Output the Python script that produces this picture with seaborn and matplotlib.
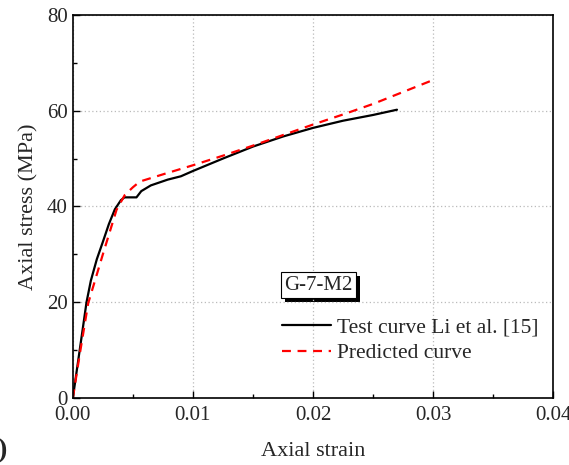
import matplotlib
matplotlib.use("Agg")
import matplotlib.pyplot as plt
import seaborn as sns
import pandas as pd
from matplotlib.patches import Rectangle
from matplotlib.ticker import MultipleLocator, FormatStrFormatter

test_strain = [0.0, 0.0004, 0.0008, 0.00114, 0.0015, 0.0020, 0.0025, 0.0030, 0.0035, 0.0040, 0.0043, 0.0053,
               0.0057, 0.0065, 0.0079, 0.009, 0.010, 0.0125, 0.015, 0.0175, 0.020, 0.0225, 0.025, 0.0270]
test_stress = [0.0, 7.0, 14.0, 20.0, 24.5, 29.0, 32.6, 36.3, 39.4, 41.3, 41.9, 41.9,
               43.2, 44.4, 45.6, 46.3, 47.4, 50.0, 52.5, 54.6, 56.4, 57.9, 59.1, 60.2]
pred_strain = [0.0, 0.0006, 0.00128, 0.0025, 0.00364, 0.00433, 0.0050, 0.00558, 0.0075, 0.010,
               0.0125, 0.015, 0.0175, 0.020, 0.0225, 0.025, 0.027, 0.0300]
pred_stress = [0.0, 9.5, 19.8, 30.0, 39.3, 42.4, 44.0, 45.2, 46.7, 48.6,
               50.6, 52.7, 54.9, 57.1, 59.2, 61.4, 63.4, 66.4]

sns.set_theme(style="ticks")
plt.rcParams['font.family'] = ['Liberation Serif', 'DejaVu Serif']

df = pd.concat([
    pd.DataFrame({"strain": test_strain, "stress": test_stress, "curve": "Test curve Li et al. [15]"}),
    pd.DataFrame({"strain": pred_strain, "stress": pred_stress, "curve": "Predicted curve"}),
])

fig = plt.figure(figsize=(5.69, 4.65), dpi=100)
ax = fig.add_axes([0.128, 0.144, 0.844, 0.824])

sns.lineplot(data=df, x="strain", y="stress", hue="curve", style="curve",
             palette={"Test curve Li et al. [15]": "black", "Predicted curve": "#ff0000"},
             dashes={"Test curve Li et al. [15]": "", "Predicted curve": (4, 3)},
             linewidth=1.6, sort=False, estimator=None, ax=ax, legend=True)

ax.set_xlim(0, 0.04)
ax.set_ylim(0, 80)
ax.xaxis.set_major_locator(MultipleLocator(0.01))
ax.xaxis.set_minor_locator(MultipleLocator(0.005))
ax.yaxis.set_major_locator(MultipleLocator(20))
ax.yaxis.set_minor_locator(MultipleLocator(10))
ax.xaxis.set_major_formatter(FormatStrFormatter("%.2f"))
ax.tick_params(which="both", direction="in", labelsize=15, color="black", width=1.0)
ax.tick_params(which="major", length=5)
ax.tick_params(which="minor", length=3)
ax.tick_params(axis="x", pad=6)
ax.grid(True, which="major", linestyle=(0, (1, 2)), color="#bbbbbb", linewidth=0.9)
for s in ax.spines.values():
    s.set_color("black")
    s.set_linewidth(1.2)

ax.set_xlabel("Axial strain", fontsize=16, labelpad=12)
ax.set_ylabel("Axial stress (MPa)", fontsize=16, labelpad=6)

h, l = ax.get_legend_handles_labels()
leg = ax.legend(h, l, loc="lower left", bbox_to_anchor=(0.395, 0.04), frameon=False,
                fontsize=15.5, handlelength=2.28, handletextpad=0.28, labelspacing=0.25)
for line in leg.get_lines():
    line.set_linewidth(1.6)

t = ax.text(0.441, 0.295, "G-7-M2", transform=ax.transAxes, fontsize=15, va="center", ha="left",
            zorder=5, bbox=dict(boxstyle="square,pad=0.15", facecolor="white", edgecolor="black", linewidth=0.8))
renderer = fig.canvas.get_renderer()
fig.canvas.draw()
bb = t.get_bbox_patch().get_window_extent(renderer)
W, H = fig.bbox.width, fig.bbox.height
fig.add_artist(Rectangle(((bb.x0 + 4) / W, (bb.y0 - 4) / H), bb.width / W, bb.height / H,
                         transform=fig.transFigure, facecolor="black", edgecolor="none", zorder=1))
ax.set_zorder(2)
ax.patch.set_alpha(0)
fig.patch.set_facecolor("white")

fig.text(-0.005, 0.03, ")", fontsize=20, fontweight="bold", ha="left", va="center")

fig.savefig("out.png", dpi=100, facecolor="white")
